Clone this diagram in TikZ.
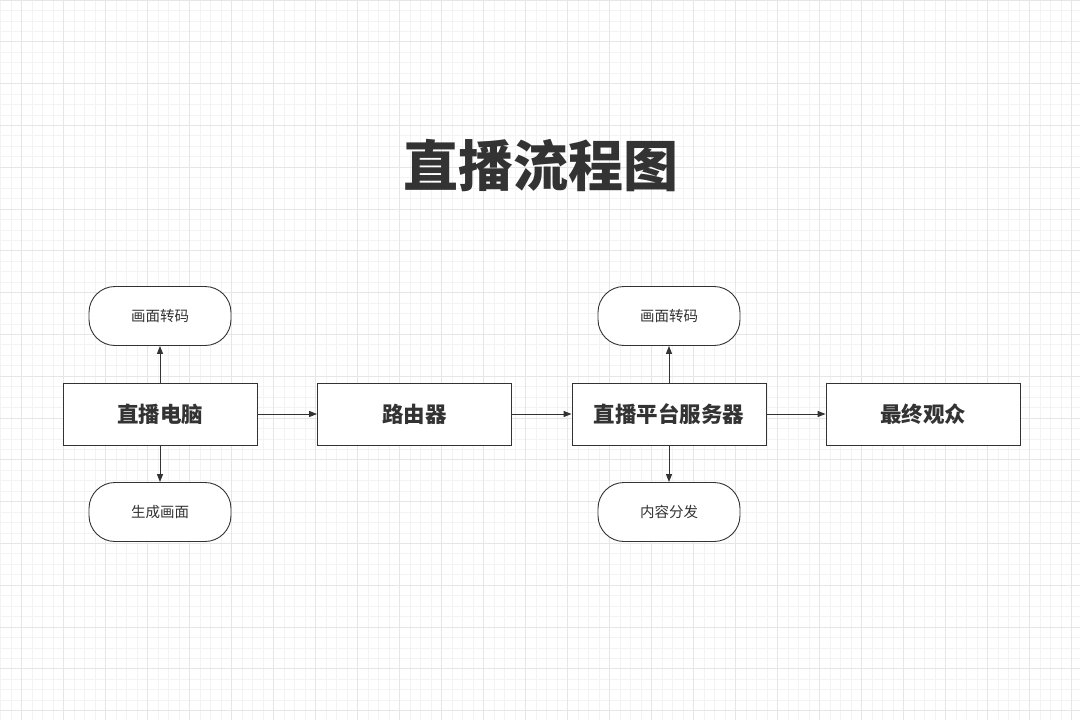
\documentclass[tikz,border=0pt]{standalone}
\usepackage{fontspec}
\newfontfamily\cjk{Noto Sans CJK SC}
\usetikzlibrary{arrows.meta}
\definecolor{ink}{HTML}{333333}
\definecolor{gridminor}{HTML}{F3F3F3}
\definecolor{gridmajor}{HTML}{E6E6E6}
\tikzset{
  mainbox/.style={draw=ink, line width=0.9pt, fill=white, minimum width=194pt, minimum height=62pt, inner sep=0pt, font=\cjk\bfseries\fontsize{21.5}{26}\selectfont, text=ink},
  pillbox/.style={draw=ink, line width=0.9pt, fill=white, rounded corners=26pt, minimum width=142pt, minimum height=59pt, inner sep=0pt, font=\cjk\fontsize{14.5}{17}\selectfont, text=ink},
  flow/.style={draw=ink, line width=0.9pt, -{Triangle[length=8pt,width=6pt]}},
}
\begin{document}
\begin{tikzpicture}[x=1pt,y=1pt]
\useasboundingbox (0,0) rectangle (1080,-720);
\fill[white] (0,0) rectangle (1080,-720);
% grid
\foreach \i in {0,...,103} {
  \draw[gridminor, line width=0.8pt] ({0.5+\i*10.5},0) -- ({0.5+\i*10.5},-720);
}
\foreach \j in {0,...,69} {
  \draw[gridminor, line width=0.8pt] (0,{-\j*10.45}) -- (1080,{-\j*10.45});
}
\foreach \i in {0,...,25} {
  \draw[gridmajor, line width=1pt] ({21.5+\i*42},0) -- ({21.5+\i*42},-720);
}
\foreach \j in {0,...,17} {
  \draw[gridmajor, line width=1pt] (0,{-\j*41.8}) -- (1080,{-\j*41.8});
}
% title
\node[font=\cjk\bfseries\fontsize{55}{62}\selectfont, text=ink] (title) at (541,-166) {直播流程图};
% nodes
\node[mainbox] (pc) at (160,-414) {直播电脑};
\node[mainbox] (router) at (414.5,-414) {路由器};
\node[mainbox] (server) at (669,-414) {直播平台服务器};
\node[mainbox] (viewer) at (923,-414) {最终观众};
\node[pillbox] (pcup) at (160,-316) {画面转码};
\node[pillbox] (pcdown) at (160,-512) {生成画面};
\node[pillbox] (svup) at (669,-316) {画面转码};
\node[pillbox] (svdown) at (669,-512) {内容分发};
% connectors
\draw[flow] (pc) -- (router);
\draw[flow] (router) -- (server);
\draw[flow] (server) -- (viewer);
\draw[flow] (pc) -- (pcup);
\draw[flow] (pc) -- (pcdown);
\draw[flow] (server) -- (svup);
\draw[flow] (server) -- (svdown);
\end{tikzpicture}
\end{document}
